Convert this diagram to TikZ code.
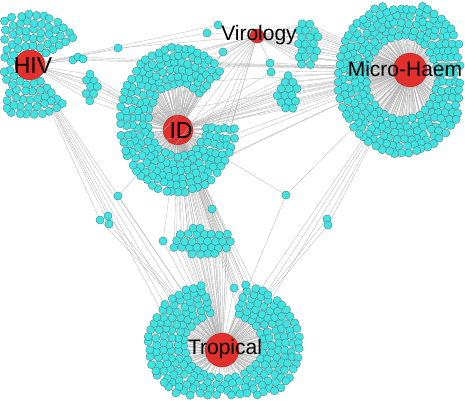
\documentclass[tikz,border=0pt]{standalone}
\usepackage{fontspec}
\setmainfont{Liberation Sans}
\usepackage{tikz}

\definecolor{leafcyan}{RGB}{64,226,226}
\definecolor{leafrim}{RGB}{70,125,125}
\definecolor{hubred}{RGB}{226,48,44}
\definecolor{hubrim}{RGB}{150,30,28}
\definecolor{linkgray}{RGB}{178,178,178}

\tikzset{
  leaf/.style={circle,draw=leafrim,fill=leafcyan,line width=0.35pt,minimum size=8.2pt,inner sep=0pt},
  hub/.style={circle,draw=hubrim,fill=hubred,line width=0.4pt,inner sep=0pt},
  link/.style={draw=linkgray,line width=0.3pt},
  hublabel/.style={font=\fontsize{21}{21}\selectfont,text=black,inner sep=0pt},
}

\newcommand{\leafring}[9]{%
  \foreach \rad [count=\ri] in {#5} {%
    \pgfmathtruncatemacro{\nk}{max(1,round(abs(#7-#6)/180*pi*\rad*(#8+#9)/2/7.6))-1}%
    \foreach \k in {0,...,\nk} {%
      \pgfmathsetmacro{\ang}{#6+(#7-#6)/(\nk+1)*(\k+0.5)+1.5*rand}%
      \pgfmathsetmacro{\rr}{\rad+1.2*rand}%
      \pgfmathsetmacro{\px}{#3+\rr*#8*cos(\ang)}%
      \pgfmathsetmacro{\py}{#4+\rr*#9*sin(\ang)}%
      \ifdim\px pt<4pt\relax\else\ifdim\px pt>461pt\relax\else
      \ifdim\py pt<4pt\relax\else\ifdim\py pt>396pt\relax\else
        \coordinate (#1-\ri-\k) at (\px,\py);
        \draw[link] (#2) -- (#1-\ri-\k);
        \xdef\leaflist{\leaflist,#1-\ri-\k}%
      \fi\fi\fi\fi
    }%
  }%
}

\newcommand{\leafblob}[6]{%
  \foreach \i in {0,...,8} {%
    \foreach \j in {0,...,8} {%
      \pgfmathsetmacro{\px}{#2+7.6*(\i-4)+3.8*mod(\j,2)-2+0.8*rand}%
      \pgfmathsetmacro{\py}{#3+6.6*(\j-4)+0.8*rand}%
      \pgfmathsetmacro{\dd}{((\px-#2)/#4)^2+((\py-#3)/#5)^2}%
      \ifdim\dd pt<1pt
        \coordinate (#1-\i-\j) at (\px,\py);
        \foreach \h in {#6} {\draw[link] (\h) -- (#1-\i-\j);}
        \xdef\leaflist{\leaflist,#1-\i-\j}%
      \fi
    }%
  }%
}

\begin{document}
\begin{tikzpicture}[x=1pt,y=-1pt]
  \useasboundingbox (0,0) rectangle (465,400);
  \pgfmathsetseed{17}

  \node[hub,minimum size=30pt] (hiv) at (30,65) {};
  \node[hub,minimum size=14pt] (vir) at (257,36) {};
  \node[hub,minimum size=30pt] (id) at (178,130) {};
  \node[hub,minimum size=34pt] (mh) at (410,70) {};
  \node[hub,minimum size=34pt] (tro) at (222,350) {};

  \coordinate (lone1) at (118,48);
  \coordinate (lone2) at (207,33);
  \coordinate (lone3) at (218,25);
  \coordinate (lone4) at (223,52);
  \coordinate (lone5) at (270,63);
  \coordinate (lone6) at (271,72);
  \coordinate (lone7) at (73,60);
  \coordinate (lone8) at (78,57);
  \coordinate (lone9) at (83,59);
  \coordinate (lone10) at (118,196);
  \coordinate (lone11) at (100,220);
  \coordinate (lone12) at (108,216);
  \coordinate (lone13) at (109,224);
  \coordinate (lone14) at (212,209);
  \coordinate (lone15) at (286,195);
  \coordinate (lone16) at (327,219);
  \coordinate (lone17) at (328,225);
  \coordinate (lone18) at (163,241);
  \coordinate (lone19) at (234,288);
  \gdef\leaflist{lone1,lone2,lone3,lone4,lone5,lone6,lone7,lone8,lone9,lone10,
    lone11,lone12,lone13,lone14,lone15,lone16,lone17,lone18,lone19}

  \leafring{hv}{hiv}{30}{65}{20,27.5,35,42.5,50}{45}{333}{1}{1}
  \leafring{idr}{id}{178}{120}{37,44,51,58,65,72}{5}{320}{0.8}{1}
  \leafring{mhr}{mh}{402}{78}{45,52,59,66,73,80}{0}{360}{0.8}{0.94}
  \leafring{tr}{tro}{224}{345}{39,46,53,60,67,74}{285}{615}{1.02}{0.85}

  \leafblob{mid}{202}{241}{32}{14}{id,tro}
  \leafblob{hvb}{92}{87}{9}{16}{hiv,id}
  \leafblob{vmb}{308}{44}{12}{26}{vir,mh}
  \leafblob{imb}{287}{95}{11}{20}{id,mh}

  \draw[link] (hiv) -- (lone1) -- (vir);
  \draw[link] (hiv) -- (lone2) -- (vir);
  \draw[link] (hiv) -- (lone3) -- (vir);
  \draw[link] (id) -- (lone4) -- (vir);
  \draw[link] (vir) -- (lone5) -- (mh);
  \draw[link] (id) -- (lone6) -- (mh);
  \draw[link] (hiv) -- (lone7) -- (mh);
  \draw[link] (hiv) -- (lone8) -- (mh);
  \draw[link] (hiv) -- (lone9) -- (mh);
  \draw[link] (id) -- (lone10) -- (tro);
  \draw[link] (hiv) -- (lone11) -- (tro);
  \draw[link] (hiv) -- (lone12) -- (tro);
  \draw[link] (hiv) -- (lone13) -- (tro);
  \draw[link] (id) -- (lone14) -- (tro);
  \draw[link] (id) -- (lone15) -- (mh) (lone15) -- (tro);
  \draw[link] (mh) -- (lone16) -- (tro);
  \draw[link] (mh) -- (lone17) -- (tro);
  \draw[link] (id) -- (lone18) -- (tro);
  \draw[link] (id) -- (lone19) -- (tro);
  \foreach \k in {0,3,...,39} {\draw[link] (vir) -- (idr-5-\k);}
  \foreach \k in {1,5,...,33} {\draw[link] (mh) -- (idr-4-\k);}
  \foreach \k in {1,...,6} {\draw[link] (id) -- (tr-\k-0) (id) -- (tr-\k-1);}
  \foreach \k in {36,...,40} {\draw[link] (hiv) -- (tr-4-\k);}
  \foreach \k in {1,2,3} {\draw[link] (mh) -- (tr-3-\k);}

  \foreach \n in \leaflist {\node[leaf] (\n-dot) at (\n) {};}

  \node[hublabel,font=\fontsize{23}{23}\selectfont] (hivname) at (33,66) {HIV};
  \node[hublabel] (virname) at (259,35) {Virology};
  \node[hublabel,font=\fontsize{23}{23}\selectfont] (idname) at (181,131) {ID};
  \node[hublabel] (mhname) at (405,69) {Micro-Haem};
  \node[hublabel] (troname) at (225,349) {Tropical};
\end{tikzpicture}
\end{document}
